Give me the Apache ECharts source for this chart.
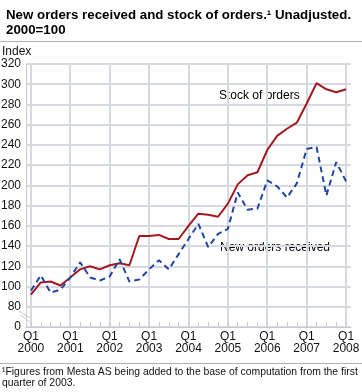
<!DOCTYPE html>
<html>
<head>
<meta charset="utf-8">
<script src="https://cdn.jsdelivr.net/npm/echarts@6/dist/echarts.min.js"></script>
<style>
html,body{margin:0;padding:0;background:#fff;}
#c{width:362px;height:392px;}
</style>
</head>
<body>
<div id="c"></div>
<script>
const categories = [
  'Q1 2000','Q2 2000','Q3 2000','Q4 2000',
  'Q1 2001','Q2 2001','Q3 2001','Q4 2001',
  'Q1 2002','Q2 2002','Q3 2002','Q4 2002',
  'Q1 2003','Q2 2003','Q3 2003','Q4 2003',
  'Q1 2004','Q2 2004','Q3 2004','Q4 2004',
  'Q1 2005','Q2 2005','Q3 2005','Q4 2005',
  'Q1 2006','Q2 2006','Q3 2006','Q4 2006',
  'Q1 2007','Q2 2007','Q3 2007','Q4 2007',
  'Q1 2008'
];
const stockOfOrders = [92, 104, 105, 101, 109, 117, 120, 117, 121, 123, 121, 150, 150, 151, 147, 147,
  160, 172, 171, 169, 182, 201, 210, 213, 235, 249, 256, 262, 281, 301, 295, 292, 295];
const newOrders = [96, 111, 94, 97, 109, 124, 109, 106, 110, 127, 105, 107, 117, 126, 117, 132,
  147, 162, 139, 152, 157, 193, 176, 177, 205, 199, 188, 202, 236, 238, 190, 223, 204];
const yearGridlines = ['Q1 2000','Q1 2001','Q1 2002','Q1 2003','Q1 2004','Q1 2005','Q1 2006','Q1 2007','Q1 2008'];
const yTickLabels = {60: '0'};

const FONT = 'Liberation Sans';
const GRID = '#d6d9e0';
const AXIS = '#c8cad0';

const chart = echarts.init(document.getElementById('c'), null, {renderer: 'canvas'});
chart.setOption({
  animation: false,
  title: {
    text: 'New orders received and stock of orders.\u00b9 Unadjusted.\n2000=100',
    left: 1, top: 3,
    textStyle: {fontFamily: FONT, fontSize: 13.3, fontWeight: 'bold', color: '#000', lineHeight: 15}
  },
  grid: {left: 26, right: 11, top: 64, bottom: 65, containLabel: false, outerBoundsMode: 'none'},
  xAxis: {
    type: 'category',
    data: categories,
    boundaryGap: true,
    axisLine: {show: true, lineStyle: {color: AXIS, width: 1}},
    axisTick: {show: true, inside: true, length: 5, alignWithLabel: true, interval: 0, lineStyle: {color: AXIS}},
    axisLabel: {
      interval: 3, margin: 4, color: '#111', fontFamily: FONT, fontSize: 12, lineHeight: 12,
      formatter: v => v.replace(' ', '\n')
    },
    splitLine: {show: false}
  },
  yAxis: {
    type: 'value',
    min: 60, max: 320, interval: 20,
    axisLine: {show: true, lineStyle: {color: AXIS, width: 1}},
    axisTick: {show: false},
    axisLabel: {
      margin: 5, color: '#111', fontFamily: FONT, fontSize: 12,
      formatter: v => (yTickLabels[v] !== undefined ? yTickLabels[v] : String(v))
    },
    splitLine: {show: true, lineStyle: {color: GRID, width: 2}}
  },
  series: [
    {
      type: 'line', name: 'Stock of orders', data: stockOfOrders, z: 3,
      symbol: 'none', lineStyle: {color: '#a3191f', width: 2}
    },
    {
      type: 'line', name: 'New orders received', data: newOrders, z: 4,
      symbol: 'none', lineStyle: {color: '#2346a0', width: 2, type: [6, 4]}
    }
  ],
  graphic: [
    {type: 'line', shape: {x1: 0, y1: 41.5, x2: 362, y2: 41.5}, style: {stroke: '#b0b0b0', lineWidth: 1}},
    {type: 'text', left: 2, top: 46, style: {text: 'Index', fontFamily: FONT, fontSize: 12, fill: '#111'}},
    {type: 'text', left: 219, top: 90, style: {text: 'Stock of orders', fontFamily: FONT, fontSize: 12, fill: '#000'}},
    {type: 'text', left: 220, top: 242, style: {text: 'New orders received', fontFamily: FONT, fontSize: 12, fill: '#000'}},
    {type: 'line', shape: {x1: 19, y1: 311, x2: 30, y2: 318}, style: {stroke: AXIS, lineWidth: 1}},
    {type: 'line', shape: {x1: 20, y1: 315, x2: 30, y2: 322}, style: {stroke: AXIS, lineWidth: 1}},
    {type: 'line', shape: {x1: 0, y1: 363.5, x2: 362, y2: 363.5}, style: {stroke: '#b0b0b0', lineWidth: 1}},
    {type: 'text', left: 2, top: 367, style: {
      text: '\u00b9Figures from Mesta AS being added to the base of computation from the first\nquarter of 2003.',
      fontFamily: FONT, fontSize: 10.4, lineHeight: 11, fill: '#111'}}
  ]
});

// yearly vertical gridlines, placed through the category axis scale
const yTop = chart.convertToPixel({yAxisIndex: 0}, 320);
const yBottom = chart.convertToPixel({yAxisIndex: 0}, 60);
const vLines = yearGridlines.map((c, i) => {
  const x = Math.round(chart.convertToPixel({xAxisIndex: 0}, c));
  return {
    id: 'year-grid-' + i, type: 'line', silent: true,
    shape: {x1: x, y1: yTop, x2: x, y2: yBottom},
    style: {stroke: GRID, lineWidth: 2}
  };
});
chart.setOption({graphic: vLines});
</script>
</body>
</html>
